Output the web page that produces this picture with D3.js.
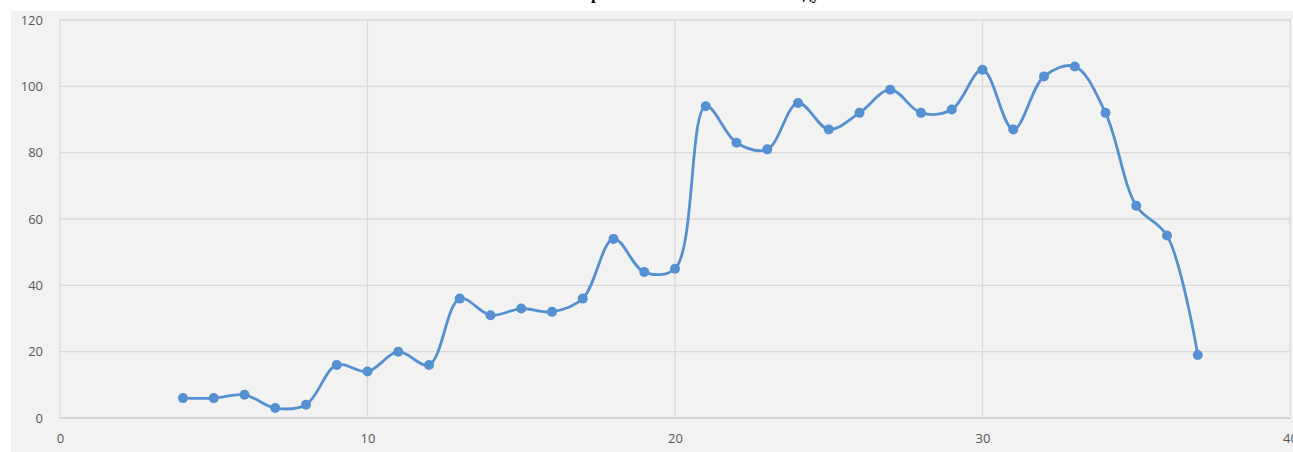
<!DOCTYPE html>
<html><head><meta charset="utf-8">
<script src="https://cdn.jsdelivr.net/npm/d3@7"></script>
<style>
html,body{margin:0;padding:0;background:#fff;overflow:hidden}
svg{display:block}
</style></head>
<body>
<svg id="chart" width="1293" height="452"></svg>
<script>
const title = "Кривая заболеваемости по году";
const xValues = [4,5,6,7,8,9,10,11,12,13,14,15,16,17,18,19,20,21,22,23,24,25,26,27,28,29,30,31,32,33,34,35,36,37];
const yValues = [6,6,7,3,4,16,14,20,16,36,31,33,32,36,54,44,45,94,83,81,95,87,92,99,92,93,105,87,103,106,92,64,55,19];
const xTicks = [0,10,20,30,40];
const yTicks = [0,20,40,60,80,100,120];

const svg = d3.select("#chart");
const W = 1293, H = 452;
const m = {left:60, right:3, top:20, bottom:34};

svg.append("rect").attr("x",11).attr("y",11).attr("width",W-11).attr("height",H-11).attr("fill","#f2f2f2");

const x = d3.scaleLinear().domain([0,40]).range([m.left, W-m.right]);
const y = d3.scaleLinear().domain([0,120]).range([H-m.bottom, m.top]);

// grid
const g = svg.append("g");
g.selectAll(".hg").data(yTicks).join("line")
  .attr("x1",x(0)).attr("x2",x(40)).attr("y1",d=>y(d)).attr("y2",d=>y(d))
  .attr("stroke",d=>d===0?"#c8c8c8":"#d9d9d9").attr("stroke-width",1.3);
g.selectAll(".vg").data(xTicks).join("line")
  .attr("y1",y(0)).attr("y2",y(120)).attr("x1",d=>x(d)).attr("x2",d=>x(d))
  .attr("stroke","#d9d9d9").attr("stroke-width",1.3);

// axes labels
const yAxis = d3.axisLeft(y).tickValues(yTicks).tickSize(0).tickPadding(17);
const ya = svg.append("g").attr("transform",`translate(${x(0)},0)`).call(yAxis);
const xAxis = d3.axisBottom(x).tickValues(xTicks).tickSize(0).tickPadding(16);
const xa = svg.append("g").attr("transform",`translate(0,${y(0)})`).call(xAxis);
[ya,xa].forEach(a=>{
  a.select(".domain").remove();
  a.selectAll("text").attr("fill","#595959").style("font-family","'Open Sans','Noto Sans',sans-serif").style("font-size","13px");
});

// line
const pts = xValues.map((v,i)=>[v,yValues[i]]);
const line = d3.line().x(d=>x(d[0])).y(d=>y(d[1])).curve(d3.curveCatmullRom.alpha(0.5));
svg.append("path").attr("d",line(pts)).attr("fill","none").attr("stroke","#5590d2").attr("stroke-width",2.8);
svg.selectAll(".pt").data(pts).join("circle")
  .attr("cx",d=>x(d[0])).attr("cy",d=>y(d[1])).attr("r",5).attr("fill","#5590d2");

// title (mostly cut off at top of picture)
const t = svg.append("text").text(title)
  .attr("y",-1).attr("fill","#000")
  .style("font-family","'Liberation Serif','Times New Roman',serif")
  .style("font-weight","bold").style("font-size","20px");
const node = t.node();
const iR = 1, iD = title.lastIndexOf("д");
let span = node.getStartPositionOfChar(iD).x - node.getStartPositionOfChar(iR).x;
const fs = 20 * 212 / span;
t.style("font-size", fs + "px");
const pr = node.getSubStringLength(0,1);
t.attr("x", 591 - pr);
</script>
</body></html>
